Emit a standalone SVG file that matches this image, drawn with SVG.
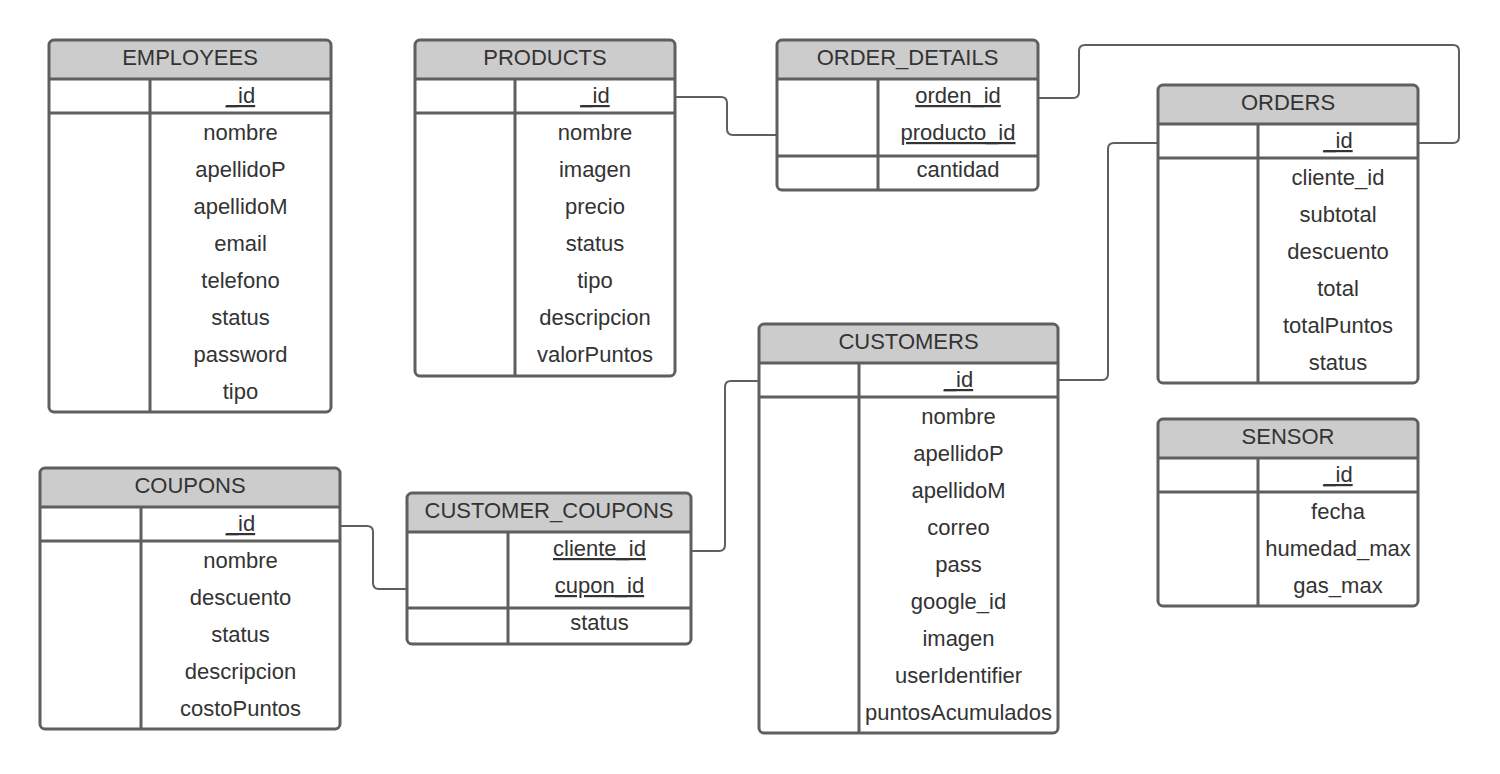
<svg xmlns="http://www.w3.org/2000/svg" width="1500" height="774" viewBox="0 0 1500 774">
<style>
.box{fill:none;stroke:#5f5f5f;stroke-width:3}
.bg{fill:#ffffff;stroke:none}
.hd{fill:#cccccc;stroke:none}
.ln{stroke:#5f5f5f;stroke-width:3;fill:none}
.conn{fill:none;stroke:#5f5f5f;stroke-width:2}
text{font-family:"Liberation Sans",Arial,sans-serif;font-size:22px;fill:#333333;text-anchor:middle}
.k{text-decoration:underline}
</style>
<rect x="0" y="0" width="1500" height="774" fill="#ffffff"/>
<g id="connectors">
<path class="conn" d="M675,97 H721 Q727,97 727,103 V129 Q727,135 733,135 H777"/>
<path class="conn" d="M1038,98 H1073 Q1079,98 1079,92 V51 Q1079,45 1085,45 H1453 Q1459,45 1459,51 V137 Q1459,143 1453,143 H1418"/>
<path class="conn" d="M1058,380 H1102 Q1108,380 1108,374 V149 Q1108,143 1114,143 H1158"/>
<path class="conn" d="M340,526 H367 Q373,526 373,532 V583 Q373,589 379,589 H407"/>
<path class="conn" d="M691,551 H719 Q725,551 725,545 V387 Q725,381 731,381 H759"/>
</g>
<g id="employees">
<rect class="bg" x="49" y="40" width="282" height="372" rx="5"/>
<path class="hd" d="M49,79 V45 Q49,40 54,40 H326 Q331,40 331,45 V79 Z"/>
<path class="ln" d="M49,79 H331 M49,113 H331 M150,79 V412"/>
<rect class="box" x="49" y="40" width="282" height="372" rx="5"/>
<text x="190" y="65">EMPLOYEES</text>
<text class="k" x="240.5" y="103">_id</text>
<text x="240.5" y="140">nombre</text>
<text x="240.5" y="177">apellidoP</text>
<text x="240.5" y="214">apellidoM</text>
<text x="240.5" y="251">email</text>
<text x="240.5" y="288">telefono</text>
<text x="240.5" y="325">status</text>
<text x="240.5" y="362">password</text>
<text x="240.5" y="399">tipo</text>
</g>
<g id="products">
<rect class="bg" x="415" y="40" width="260" height="336" rx="5"/>
<path class="hd" d="M415,79 V45 Q415,40 420,40 H670 Q675,40 675,45 V79 Z"/>
<path class="ln" d="M415,79 H675 M415,113 H675 M515,79 V376"/>
<rect class="box" x="415" y="40" width="260" height="336" rx="5"/>
<text x="545" y="65">PRODUCTS</text>
<text class="k" x="595" y="103">_id</text>
<text x="595" y="140">nombre</text>
<text x="595" y="177">imagen</text>
<text x="595" y="214">precio</text>
<text x="595" y="251">status</text>
<text x="595" y="288">tipo</text>
<text x="595" y="325">descripcion</text>
<text x="595" y="362">valorPuntos</text>
</g>
<g id="order_details">
<rect class="bg" x="777" y="40" width="261" height="150" rx="5"/>
<path class="hd" d="M777,79 V45 Q777,40 782,40 H1033 Q1038,40 1038,45 V79 Z"/>
<path class="ln" d="M777,79 H1038 M777,156 H1038 M878,79 V190"/>
<rect class="box" x="777" y="40" width="261" height="150" rx="5"/>
<text x="907.5" y="65">ORDER_DETAILS</text>
<text class="k" x="958" y="103">orden_id</text>
<text class="k" x="958" y="140">producto_id</text>
<text x="958" y="177">cantidad</text>
</g>
<g id="orders">
<rect class="bg" x="1158" y="85" width="260" height="298" rx="5"/>
<path class="hd" d="M1158,124 V90 Q1158,85 1163,85 H1413 Q1418,85 1418,90 V124 Z"/>
<path class="ln" d="M1158,124 H1418 M1158,158 H1418 M1258,124 V383"/>
<rect class="box" x="1158" y="85" width="260" height="298" rx="5"/>
<text x="1288" y="110">ORDERS</text>
<text class="k" x="1338" y="148">_id</text>
<text x="1338" y="185">cliente_id</text>
<text x="1338" y="222">subtotal</text>
<text x="1338" y="259">descuento</text>
<text x="1338" y="296">total</text>
<text x="1338" y="333">totalPuntos</text>
<text x="1338" y="370">status</text>
</g>
<g id="customers">
<rect class="bg" x="759" y="324" width="299" height="409" rx="5"/>
<path class="hd" d="M759,363 V329 Q759,324 764,324 H1053 Q1058,324 1058,329 V363 Z"/>
<path class="ln" d="M759,363 H1058 M759,397 H1058 M859,363 V733"/>
<rect class="box" x="759" y="324" width="299" height="409" rx="5"/>
<text x="908.5" y="349">CUSTOMERS</text>
<text class="k" x="958.5" y="387">_id</text>
<text x="958.5" y="424">nombre</text>
<text x="958.5" y="461">apellidoP</text>
<text x="958.5" y="498">apellidoM</text>
<text x="958.5" y="535">correo</text>
<text x="958.5" y="572">pass</text>
<text x="958.5" y="609">google_id</text>
<text x="958.5" y="646">imagen</text>
<text x="958.5" y="683">userIdentifier</text>
<text x="958.5" y="720">puntosAcumulados</text>
</g>
<g id="sensor">
<rect class="bg" x="1158" y="419" width="260" height="187" rx="5"/>
<path class="hd" d="M1158,458 V424 Q1158,419 1163,419 H1413 Q1418,419 1418,424 V458 Z"/>
<path class="ln" d="M1158,458 H1418 M1158,492 H1418 M1258,458 V606"/>
<rect class="box" x="1158" y="419" width="260" height="187" rx="5"/>
<text x="1288" y="444">SENSOR</text>
<text class="k" x="1338" y="482">_id</text>
<text x="1338" y="519">fecha</text>
<text x="1338" y="556">humedad_max</text>
<text x="1338" y="593">gas_max</text>
</g>
<g id="coupons">
<rect class="bg" x="40" y="468" width="300" height="261" rx="5"/>
<path class="hd" d="M40,507 V473 Q40,468 45,468 H335 Q340,468 340,473 V507 Z"/>
<path class="ln" d="M40,507 H340 M40,541 H340 M141,507 V729"/>
<rect class="box" x="40" y="468" width="300" height="261" rx="5"/>
<text x="190" y="493">COUPONS</text>
<text class="k" x="240.5" y="531">_id</text>
<text x="240.5" y="568">nombre</text>
<text x="240.5" y="605">descuento</text>
<text x="240.5" y="642">status</text>
<text x="240.5" y="679">descripcion</text>
<text x="240.5" y="716">costoPuntos</text>
</g>
<g id="customer_coupons">
<rect class="bg" x="407" y="493" width="284" height="151" rx="5"/>
<path class="hd" d="M407,532 V498 Q407,493 412,493 H686 Q691,493 691,498 V532 Z"/>
<path class="ln" d="M407,532 H691 M407,608 H691 M508,532 V644"/>
<rect class="box" x="407" y="493" width="284" height="151" rx="5"/>
<text x="549" y="518">CUSTOMER_COUPONS</text>
<text class="k" x="599.5" y="556">cliente_id</text>
<text class="k" x="599.5" y="593">cupon_id</text>
<text x="599.5" y="630">status</text>
</g>
</svg>
